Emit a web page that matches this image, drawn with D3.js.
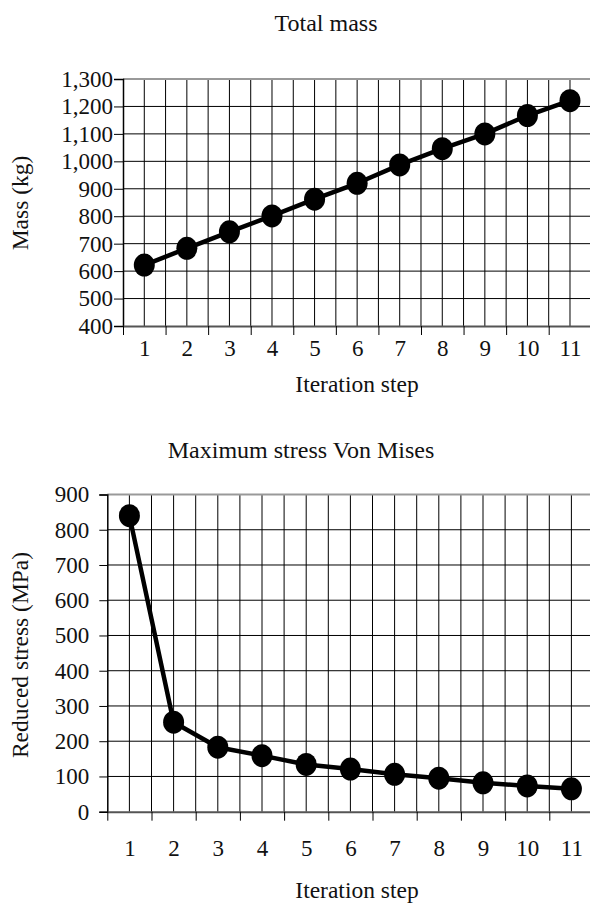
<!DOCTYPE html>
<html>
<head>
<meta charset="utf-8">
<script src="https://cdn.jsdelivr.net/npm/d3@7"></script>
<style>
  body { margin: 0; background: #fff; }
  text { font-family: "Liberation Serif", "Times New Roman", serif; fill: #111; }
</style>
</head>
<body>
<div id="vis"></div>
<script>
// data
let steps = [1, 2, 3, 4, 5, 6, 7, 8, 9, 10, 11]
let massValues = [622, 683, 743, 801, 862, 920, 987, 1046, 1100, 1167, 1221]
let stressValues = [840, 254, 183, 159, 134, 121, 106, 95, 82, 73, 65]
let massTicks = [400, 500, 600, 700, 800, 900, 1000, 1100, 1200, 1300]
let stressTicks = [0, 100, 200, 300, 400, 500, 600, 700, 800, 900]

let svg = d3.select('#vis')
    .append('svg')
    .attr('width', 590)
    .attr('height', 903)

function drawChart(c) {
    let g = svg.append('g')

    // x is linear so the band edges sit on half steps
    let xScale = d3.scaleLinear()
        .domain([0.5, 11.5])
        .range([c.left, c.left + 11 * c.band])

    let yScale = d3.scaleLinear()
        .domain(d3.extent(c.ticks))
        .range([c.bottom, c.top])

    // vertical grid: band centers and band edges
    g.append('g')
        .selectAll('line')
        .data(d3.range(1, 23).map(i => 0.5 + i * 0.5))
        .join('line')
            .attr('x1', d => xScale(d))
            .attr('x2', d => xScale(d))
            .attr('y1', c.top)
            .attr('y2', c.bottom)
            .attr('stroke', '#000')
            .attr('stroke-width', 1)

    // horizontal grid
    g.append('g')
        .selectAll('line')
        .data(c.ticks.slice(1, -1))
        .join('line')
            .attr('x1', c.left)
            .attr('x2', xScale(11.5))
            .attr('y1', d => yScale(d))
            .attr('y2', d => yScale(d))
            .attr('stroke', '#000')
            .attr('stroke-width', 1)

    // frame
    g.append('line')
        .attr('x1', c.left).attr('x2', xScale(11.5))
        .attr('y1', c.top).attr('y2', c.top)
        .attr('stroke', '#999').attr('stroke-width', 2)

    // y axis
    let yAxis = d3.axisLeft(yScale)
        .tickValues(c.ticks)
        .tickSize(c.ytick)
        .tickPadding(c.ypad)
        .tickFormat(d3.format(','))

    g.append('g')
        .attr('transform', `translate(${c.left},0)`)
        .call(yAxis)
        .call(a => a.select('.domain').attr('stroke', '#000').attr('stroke-width', 1.5))
        .call(a => a.selectAll('.tick line').attr('stroke', '#000'))
        .call(a => a.selectAll('text')
            .style('font-size', '23px')
            .attr('fill', '#111'))

    // x axis: ticks on band edges, labels on centers
    let xTicks = d3.axisBottom(xScale)
        .tickValues(d3.range(0, 12).map(i => 0.5 + i))
        .tickSize(9)
        .tickFormat('')
        .tickSizeOuter(0)

    g.append('g')
        .attr('transform', `translate(0,${c.bottom})`)
        .call(xTicks)
        .call(a => a.select('.domain').attr('stroke', '#555').attr('stroke-width', 2))
        .call(a => a.selectAll('.tick line').attr('stroke', '#000'))

    let xLabels = d3.axisBottom(xScale)
        .tickValues(steps)
        .tickSize(0)
        .tickFormat(d3.format('d'))

    g.append('g')
        .attr('transform', `translate(0,${c.bottom})`)
        .call(xLabels)
        .call(a => a.select('.domain').remove())
        .call(a => a.selectAll('text')
            .attr('y', c.xlabel)
            .attr('dy', null)
            .style('font-size', '23px')
            .attr('fill', '#111'))

    // series
    let line = d3.line()
        .x((d, i) => xScale(steps[i]))
        .y(d => yScale(d))

    g.append('path')
        .datum(c.values)
        .attr('d', line)
        .attr('fill', 'none')
        .attr('stroke', '#000')
        .attr('stroke-width', 4.5)
        .attr('stroke-linejoin', 'round')

    g.selectAll('ellipse')
        .data(c.values)
        .join('ellipse')
            .attr('cx', (d, i) => xScale(steps[i]))
            .attr('cy', d => yScale(d))
            .attr('rx', 10.5)
            .attr('ry', 11.5)
            .attr('fill', '#000')

    // titles
    g.append('text')
        .attr('x', c.titleX)
        .attr('y', c.titleY)
        .attr('text-anchor', 'middle')
        .style('font-size', '24px')
        .text(c.title)

    g.append('text')
        .attr('x', 357)
        .attr('y', c.xtitleY)
        .attr('text-anchor', 'middle')
        .style('font-size', '23.5px')
        .text('Iteration step')

    g.append('text')
        .attr('transform', `translate(28,${c.ytitleY}) rotate(-90)`)
        .attr('text-anchor', 'middle')
        .style('font-size', '23.5px')
        .text(c.ytitle)
}

drawChart({
    values: massValues, ticks: massTicks,
    left: 123, top: 79, bottom: 326, band: 42.57,
    ytick: 9, ypad: 1, xlabel: 30,
    title: 'Total mass', titleX: 326, titleY: 31,
    xtitleY: 392, ytitle: 'Mass (kg)', ytitleY: 203
})

drawChart({
    values: stressValues, ticks: stressTicks,
    left: 107.3, top: 494.5, bottom: 811.7, band: 44.2,
    ytick: 8, ypad: 10, xlabel: 44,
    title: 'Maximum stress Von Mises', titleX: 301, titleY: 458,
    xtitleY: 898, ytitle: 'Reduced stress (MPa)', ytitleY: 655
})
</script>
</body>
</html>
